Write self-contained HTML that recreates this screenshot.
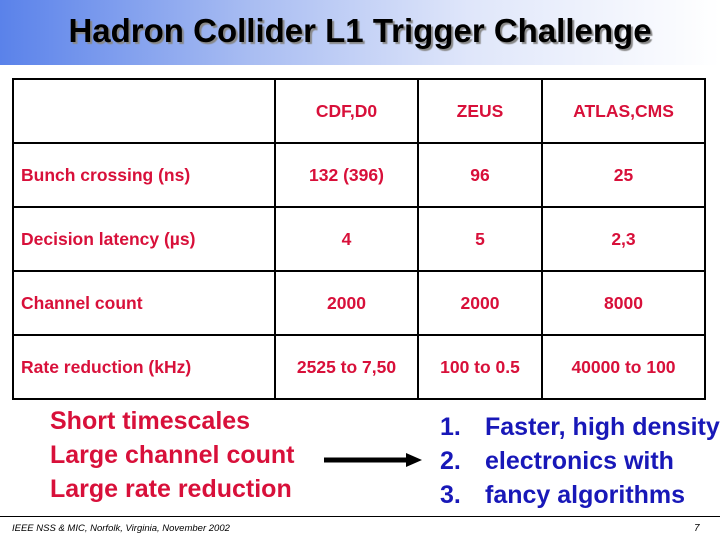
<!DOCTYPE html>
<html><head><meta charset="utf-8"><style>
body{margin:0;width:720px;height:540px;overflow:hidden;background:#fff;font-family:"Liberation Sans",Arial,Helvetica,sans-serif;position:relative}
.a{position:absolute;white-space:nowrap}
#hdr{position:absolute;left:0;top:0;width:720px;height:65px;background:linear-gradient(90deg,#5a82ea 0%,#a9bdf2 35%,#dfe6fa 65%,#fff 100%)}
#title{left:0;width:720px;text-align:center;top:12px;font-size:33px;font-weight:bold;color:#000;text-shadow:2px 2px 1px #888}
table{position:absolute;left:12px;top:78px;border-collapse:collapse;width:694px}
td{border:2px solid #000;height:60px;color:#d8103a;font-size:17.5px;font-weight:bold;text-align:center;padding:0}
td:first-child{text-align:left;padding-left:7px;width:253px}
.r{color:#d8103a;font-weight:bold;font-size:25px;left:50px}
.b{color:#1818b8;font-weight:bold;font-size:25px;left:440px}
.b span{display:inline-block;width:45px}
</style></head><body>
<div id="hdr"></div>
<div class="a" id="title">Hadron Collider L1 Trigger Challenge</div>
<table>
<tr style="height:64px"><td></td><td style="width:141px">CDF,D0</td><td style="width:122px">ZEUS</td><td>ATLAS,CMS</td></tr>
<tr style="height:64px"><td>Bunch crossing (ns)</td><td>132 (396)</td><td>96</td><td>25</td></tr>
<tr style="height:64px"><td>Decision latency (µs)</td><td>4</td><td>5</td><td>2,3</td></tr>
<tr style="height:64px"><td>Channel count</td><td>2000</td><td>2000</td><td>8000</td></tr>
<tr style="height:64px"><td>Rate reduction (kHz)</td><td>2525 to 7,50</td><td>100 to 0.5</td><td>40000 to 100</td></tr>
</table>
<div class="a r" style="top:407px">Short timescales</div>
<div class="a r" style="top:441px">Large channel count</div>
<div class="a r" style="top:475px">Large rate reduction</div>
<svg class="a" style="left:320px;top:450px" width="105" height="20"><line x1="4" y1="10" x2="88" y2="10" stroke="#000" stroke-width="5"/><polygon points="86,3 102,10 86,17" fill="#000"/></svg>
<div class="a b" style="top:413px"><span>1.</span>Faster, high density</div>
<div class="a b" style="top:447px"><span>2.</span>electronics with</div>
<div class="a b" style="top:481px"><span>3.</span>fancy algorithms</div>
<div class="a" style="left:0;top:516px;width:720px;height:1px;background:#000"></div>
<div class="a" style="left:12px;top:523px;font-size:9.5px;font-style:italic">IEEE NSS &amp; MIC, Norfolk, Virginia, November 2002</div>
<div class="a" style="left:694px;top:523px;font-size:10px;font-style:italic">7</div>
</body></html>
